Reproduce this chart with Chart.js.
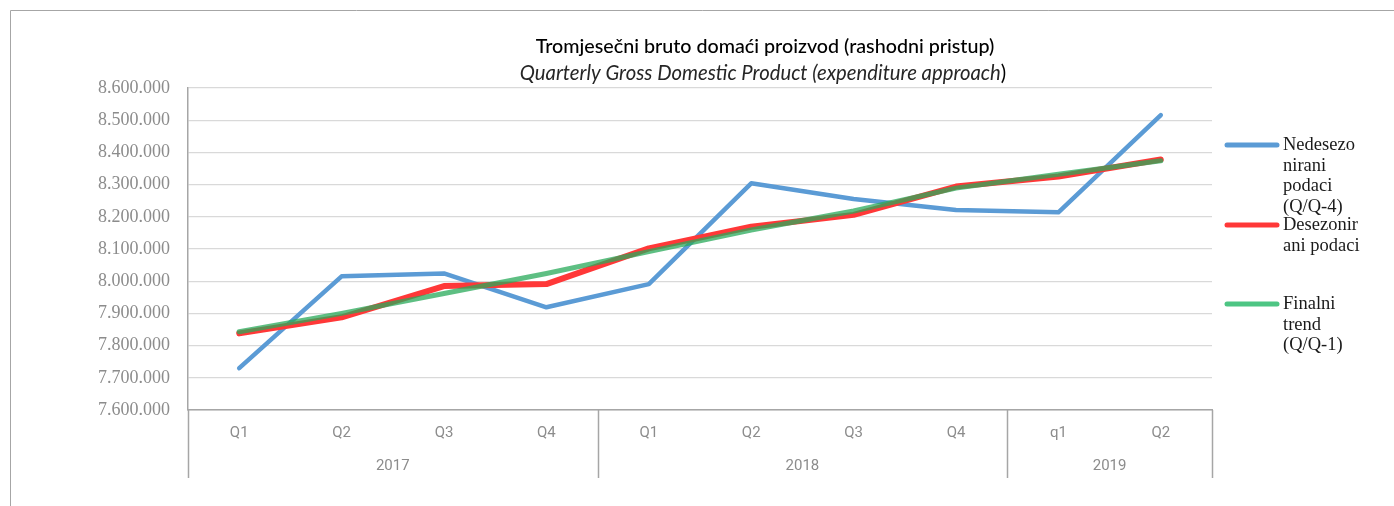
<!DOCTYPE html>
<html>
<head>
<meta charset="utf-8">
<script src="https://cdn.jsdelivr.net/npm/chart.js@4.4.1/dist/chart.umd.min.js"></script>
<style>
  html, body { margin: 0; padding: 0; background: #ffffff; }
  #wrap { position: absolute; left: 0; top: 0; width: 1394px; height: 506px; }
</style>
</head>
<body>
<div id="wrap"><canvas id="c" width="1394" height="506"></canvas></div>
<script>
// ---- data ----
const quarterLabels = ['Q1', 'Q2', 'Q3', 'Q4', 'Q1', 'Q2', 'Q3', 'Q4', 'q1', 'Q2'];
const yearLabels = ['2017', '2018', '2019'];
const yearGroupSizes = [4, 4, 2];

const seriesNames = [
  'Nedesezonirani podaci (Q/Q-4)',
  'Desezonirani podaci',
  'Finalni trend (Q/Q-1)'
];
const legendLines = [
  ['Nedesezo', 'nirani', 'podaci', '(Q/Q-4)'],
  ['Desezonir', 'ani podaci'],
  ['Finalni', 'trend', '(Q/Q-1)']
];

const unadjusted = [7730000, 8015000, 8024000, 7919000, 7991000, 8304000, 8255000, 8221000, 8214000, 8516000];
const seasonallyAdjusted = [7838000, 7888000, 7985000, 7991000, 8102000, 8169000, 8206000, 8294000, 8325000, 8378000];
const finalTrend = [7843000, 7900000, 7962000, 8024000, 8092000, 8159000, 8218000, 8289000, 8332000, 8374000];

const titleLine1 = 'Tromjesečni bruto domaći proizvod (rashodni pristup)';
const titleLine2 = 'Quarterly Gross Domestic Product (expenditure approach';

const yMin = 7600000, yMax = 8600000, yStep = 100000;

// ---- helpers ----
function fmt(v) {
  return Math.round(v).toString().replace(/\B(?=(\d{3})+(?!\d))/g, '.');
}

const AXIS_GRAY = '#a6a6a6';
const colors = ['#5b9bd5', '#ff3838', 'rgba(40,170,90,0.75)'];
const legendColors = ['#5b9bd5', '#ff3838', '#4dc583'];

const decorPlugin = {
  id: 'decor',
  beforeDraw(chart) {
    const ctx = chart.ctx;
    ctx.save();
    ctx.strokeStyle = AXIS_GRAY;
    ctx.lineWidth = 1;
    ctx.beginPath();
    ctx.moveTo(10.5, 506);
    ctx.lineTo(10.5, 10.5);
    ctx.lineTo(1394, 10.5);
    ctx.stroke();
    ctx.restore();
  },
  afterDraw(chart) {
    const ctx = chart.ctx;
    const xs = chart.scales.x;
    const area = chart.chartArea;
    ctx.save();
    // title
    ctx.fillStyle = '#000000';
    ctx.textAlign = 'center';
    ctx.textBaseline = 'alphabetic';
    ctx.font = '500 19.7px Lato, "Open Sans", sans-serif';
    ctx.fillText(titleLine1, 765, 53);
    const f2 = '20.3px Lato, "Open Sans", sans-serif';
    ctx.font = 'italic ' + f2;
    const w2 = ctx.measureText(titleLine2).width;
    ctx.font = f2;
    const wp = ctx.measureText(')').width;
    const start = 763 - (w2 + wp) / 2;
    ctx.textAlign = 'left';
    ctx.fillStyle = '#262626';
    ctx.font = 'italic ' + f2;
    ctx.fillText(titleLine2, start, 80);
    ctx.fillStyle = '#000000';
    ctx.font = f2;
    ctx.fillText(')', start + w2, 80);

    // group separators and year labels
    const step = (xs.getPixelForValue(1) - xs.getPixelForValue(0));
    const edge = i => xs.getPixelForValue(i) - step / 2;
    ctx.strokeStyle = AXIS_GRAY;
    ctx.lineWidth = 1.5;
    let idx = 0;
    const bounds = [0];
    yearGroupSizes.forEach(s => { idx += s; bounds.push(idx); });
    bounds.forEach(b => {
      const x = Math.round(edge(b)) + 0.5;
      ctx.beginPath();
      ctx.moveTo(x, area.bottom);
      ctx.lineTo(x, area.bottom + 68);
      ctx.stroke();
    });
    ctx.fillStyle = '#8c8c8c';
    ctx.font = '15px "Liberation Sans Narrow", Roboto, sans-serif';
    ctx.textAlign = 'center';
    ctx.textBaseline = 'middle';
    for (let g = 0; g < yearLabels.length; g++) {
      const x = (edge(bounds[g]) + edge(bounds[g + 1])) / 2;
      ctx.fillText(yearLabels[g], x, area.bottom + 56);
    }

    // legend
    const entryY = [145, 225, 304];
    ctx.font = '18.5px "Liberation Serif", "DejaVu Serif", serif';
    ctx.textAlign = 'left';
    ctx.textBaseline = 'middle';
    ctx.lineCap = 'round';
    for (let i = 0; i < seriesNames.length; i++) {
      const y = entryY[i];
      ctx.strokeStyle = legendColors[i];
      ctx.lineWidth = 5;
      ctx.beginPath();
      ctx.moveTo(1227, y);
      ctx.lineTo(1277, y);
      ctx.stroke();
      ctx.fillStyle = '#1a1a1a';
      legendLines[i].forEach((t, k) => ctx.fillText(t, 1283, y + k * 20.7));
    }
    ctx.restore();
  }
};

new Chart(document.getElementById('c'), {
  type: 'line',
  data: {
    labels: quarterLabels,
    datasets: [
      { label: seriesNames[0], data: unadjusted, borderColor: colors[0], borderWidth: 4.5, order: 3 },
      { label: seriesNames[1], data: seasonallyAdjusted, borderColor: colors[1], borderWidth: 6, order: 2 },
      { label: seriesNames[2], data: finalTrend, borderColor: colors[2], borderWidth: 5, order: 1 }
    ]
  },
  options: {
    responsive: false,
    animation: false,
    devicePixelRatio: 1,
    elements: {
      point: { radius: 0, hoverRadius: 0 },
      line: { tension: 0, fill: false, borderCapStyle: 'round', borderJoinStyle: 'round' }
    },
    layout: { padding: { left: 0, right: 182, top: 88, bottom: 0 } },
    plugins: {
      legend: { display: false },
      title: { display: false },
      tooltip: { enabled: false }
    },
    scales: {
      x: {
        offset: true,
        grid: { display: false, drawTicks: false },
        border: { display: true, color: AXIS_GRAY, width: 1.5 },
        ticks: {
          color: '#8c8c8c',
          font: { family: '"Liberation Sans Narrow", Roboto, sans-serif', size: 15 },
          padding: 14,
          maxRotation: 0,
          autoSkip: false
        },
        afterFit(scale) { scale.height = 96; }
      },
      y: {
        min: yMin,
        max: yMax,
        grid: { color: '#d9d9d9', lineWidth: 1.2, drawTicks: false },
        border: { display: true, color: AXIS_GRAY, width: 1.5 },
        ticks: {
          stepSize: yStep,
          color: '#8c8c8c',
          font: { family: '"Liberation Serif", "DejaVu Serif", serif', size: 18 },
          padding: 18,
          callback: v => fmt(v)
        },
        afterFit(scale) { scale.width = 188; }
      }
    }
  },
  plugins: [decorPlugin]
});
</script>
</body>
</html>
